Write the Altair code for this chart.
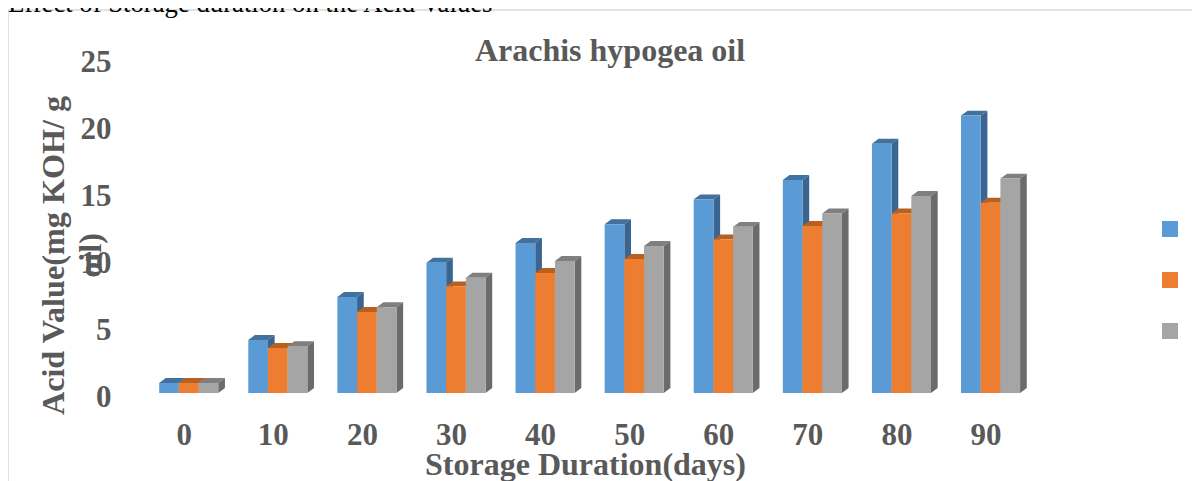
import altair as alt
import pandas as pd

days = [0, 10, 20, 30, 40, 50, 60, 70, 80, 90]
series_names = ["Series1", "Series2", "Series3"]
blue = [0.75, 3.96, 7.17, 9.72, 11.2, 12.6, 14.45, 15.9, 18.6, 20.7]
orange = [0.75, 3.36, 6.04, 7.96, 8.96, 10.0, 11.45, 12.46, 13.4, 14.2]
gray = [0.75, 3.5, 6.4, 8.6, 9.85, 10.97, 12.4, 13.4, 14.7, 16.0]
front_colors = ["#5B9BD5", "#ED7D31", "#A5A5A5"]
side_colors = ["#3A6591", "#A65620", "#6B6B6B"]
top_colors = ["#41719C", "#B8601F", "#7F7F7F"]

BAR_W = 2.21   # bar width in days
DX = 0.75      # depth in days
DY = 0.37      # depth in value units
FONT = "Liberation Serif"
INK = "#595959"

x_scale = alt.Scale(domain=[-6.03, 95.55], nice=False, zero=False)
y_scale = alt.Scale(domain=[0, 25], nice=False)
x_axis = alt.Axis(values=days, title="Storage Duration(days)", labelFontSize=31, labelFont=FONT,
                  labelFontWeight="bold", labelColor=INK, domain=False, ticks=False, grid=False,
                  labelOffset=-5, labelPadding=27, labelOverlap=False, labelFlush=False,
                  titleFont=FONT, titleFontSize=32, titleFontWeight="bold", titleColor=INK,
                  titleX=450, titleY=71, titleBaseline="middle", format="d")
y_axis = alt.Axis(values=[0, 5, 10, 15, 20, 25], title=["Acid Value(mg KOH/ g", "oil)"],
                  labelFontSize=31, labelFont=FONT, labelFontWeight="bold", labelColor=INK,
                  domain=False, ticks=False, grid=False, labelOffset=4, labelPadding=24,
                  titleFont=FONT, titleFontSize=32.2, titleFontWeight="bold", titleColor=INK,
                  titleX=-82, titleY=197, titleLineHeight=37, titleAngle=270, titleAlign="center",
                  titleBaseline="middle")

layers = []
for i, (name, vals) in enumerate(zip(series_names, [blue, orange, gray])):
    lefts = [d - 1.5 * BAR_W + i * BAR_W for d in days]
    rights = [l + BAR_W for l in lefts]
    top_rows, side_rows = [], []
    for d, l, r, v in zip(days, lefts, rights, vals):
        top_rows += [dict(g=d, y=v, a=l, b=r), dict(g=d, y=v + DY, a=l + DX, b=r + DX)]
        side_rows += [dict(g=d, x=r, a=v, b=0), dict(g=d, x=r + DX, a=v + DY, b=DY)]
    layers.append(alt.Chart(pd.DataFrame(top_rows)).mark_area(color=top_colors[i], orient="horizontal").encode(
        y=alt.Y("y:Q", scale=y_scale, axis=y_axis), x=alt.X("a:Q", scale=x_scale, axis=x_axis), x2="b:Q", detail="g:N"))
    layers.append(alt.Chart(pd.DataFrame(side_rows)).mark_area(color=side_colors[i], orient="vertical").encode(
        x=alt.X("x:Q", scale=x_scale, axis=x_axis), y=alt.Y("a:Q", scale=y_scale, axis=y_axis), y2="b:Q", detail="g:N"))
    front = pd.DataFrame(dict(day=days, l=lefts, r=rights, v=vals, s=name))
    layers.append(alt.Chart(front).mark_rect().encode(
        x=alt.X("l:Q", scale=x_scale, axis=x_axis), x2="r:Q",
        y=alt.Y("v:Q", scale=y_scale, axis=y_axis), y2=alt.Y2(datum=0),
        color=alt.Color("s:N", scale=alt.Scale(domain=series_names, range=front_colors),
                        legend=alt.Legend(title=None, labelExpr="''", labelFontSize=1, orient="none",
                                          legendX=1027, legendY=163,
                                          symbolType="square", symbolSize=256, symbolStrokeWidth=0,
                                          rowPadding=35, padding=0))))

frame_h = alt.Chart(pd.DataFrame(dict(a=[0]))).mark_rule(color="#D9D9D9", strokeWidth=1.5).encode(
    x=alt.value(-127), x2=alt.value(1057), y=alt.value(-48))
frame_v = alt.Chart(pd.DataFrame(dict(a=[0]))).mark_rule(color="#D9D9D9", strokeWidth=1.5).encode(
    x=alt.value(-127), y=alt.value(-48), y2=alt.value(423))
caption = alt.Chart(pd.DataFrame(dict(t=["Effect of Storage duration on the Acid Values"]))).mark_text(
    font=FONT, fontSize=26.7, color="#000000", align="left", baseline="alphabetic").encode(
    x=alt.value(-127), y=alt.value(-46), text="t:N")
heading = alt.Chart(pd.DataFrame(dict(t=["Arachis hypogea oil"]))).mark_text(
    font=FONT, fontSize=32, fontWeight="bold", color=INK, align="center", baseline="middle").encode(
    x=alt.value(475), y=alt.value(-7), text="t:N")

chart = alt.layer(frame_h, frame_v, caption, heading, *layers).properties(
    width=905, height=335, padding={"left": 127, "top": 50, "right": 152, "bottom": 88},
    autosize=alt.AutoSizeParams(type="none"), background="white",
).configure_view(strokeWidth=0)

chart.save("out.html", embed_options={"renderer": "svg", "actions": False})
